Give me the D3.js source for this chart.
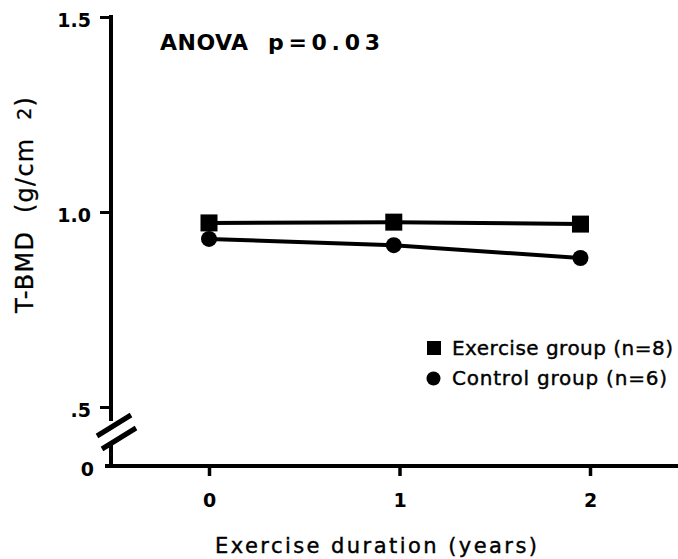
<!DOCTYPE html>
<html>
<head>
<meta charset="utf-8">
<script src="https://cdn.jsdelivr.net/npm/d3@7"></script>
<style>
  body { margin: 0; background: #fff; }
  svg { display: block; font-family: "DejaVu Sans", sans-serif; }
  text { white-space: pre; fill: #000; }
</style>
</head>
<body>
<svg id="chart" width="678" height="559"></svg>
<script>
// data
var years = [0, 0.97, 1.95];
var exerciseBMD = [0.972, 0.974, 0.969];
var controlBMD = [0.931, 0.915, 0.882];
var xTicks = [0, 1, 2];
var xTickLabels = ["0", "1", "2"];
var yTicks = [0.5, 1.0, 1.5];
var yTickLabels = [".5", "1.0", "1.5"];
var seriesNames = ["Exercise group (n=8)", "Control group (n=6)"];

var svg = d3.select("#chart");

var axisX = 111;      // y axis position
var y0 = 466;         // x axis position (value 0 after the break)

var x = d3.scaleLinear().domain([0, 2]).range([209, 590]);
var y = d3.scaleLinear().domain([0.5, 1.5]).range([407, 17]);
// the short segment below the break, 0 -> .5
var yLow = d3.scaleLinear().domain([0, 0.5]).range([y0, y(0.5)]);

function styleTicks(g) {
    g.attr("font-size", 19)
        .attr("font-family", "DejaVu Sans, sans-serif")
        .attr("font-weight", "bold");
    g.select(".domain").remove();
    g.selectAll(".tick line").attr("stroke", "#000").attr("stroke-width", 3);
    g.selectAll(".tick text")
        .attr("fill", "#000")
        .attr("font-size", 19)
        .style("font-size", "19px", "important")
        .style("font-family", "'DejaVu Sans', sans-serif", "important")
        .style("font-weight", "bold", "important");
}

// ---- y axis
var yAxis = svg.append("g")
    .attr("transform", "translate(" + axisX + ",0)")
    .call(d3.axisLeft(y)
        .tickValues(yTicks)
        .tickSize(11)
        .tickSizeOuter(0)
        .tickFormat(function (d, i) { return yTickLabels[i]; }));
styleTicks(yAxis);
yAxis.selectAll(".tick text").attr("x", -20).attr("y", 3);

var yAxisLow = svg.append("g")
    .attr("transform", "translate(" + axisX + ",0)")
    .call(d3.axisLeft(yLow)
        .tickValues([0])
        .tickSize(0)
        .tickFormat(function () { return "0"; }));
styleTicks(yAxisLow);
yAxisLow.selectAll(".tick text").attr("x", -17).attr("y", 3);

// broken axis line
svg.append("line")
    .attr("x1", axisX).attr("x2", axisX)
    .attr("y1", y(1.5) - 2).attr("y2", 421)
    .attr("stroke", "#000").attr("stroke-width", 4);
svg.append("line")
    .attr("x1", axisX).attr("x2", axisX)
    .attr("y1", 443).attr("y2", y0)
    .attr("stroke", "#000").attr("stroke-width", 4);
// break marks
[[-14, 436, 20, 415], [-9, 449, 25, 428]].forEach(function (b) {
    svg.append("line")
        .attr("x1", axisX + b[0]).attr("y1", b[1])
        .attr("x2", axisX + b[2]).attr("y2", b[3])
        .attr("stroke", "#000").attr("stroke-width", 5);
});

// ---- x axis
var xAxis = svg.append("g")
    .attr("transform", "translate(0," + y0 + ")")
    .call(d3.axisBottom(x)
        .tickValues(xTicks)
        .tickSize(10)
        .tickSizeOuter(0)
        .tickFormat(function (d, i) { return xTickLabels[i]; }));
styleTicks(xAxis);
xAxis.selectAll(".tick line").attr("stroke-width", 3.5);
xAxis.selectAll(".tick text").attr("y", 41).attr("dy", 0);

svg.append("line")
    .attr("x1", axisX - 6).attr("x2", 678)
    .attr("y1", y0).attr("y2", y0)
    .attr("stroke", "#000").attr("stroke-width", 4);

// ---- series
var pts = function (vals) {
    return vals.map(function (v, i) { return [years[i], v]; });
};
var line = d3.line()
    .x(function (d) { return x(d[0]); })
    .y(function (d) { return y(d[1]); });

svg.append("path")
    .datum(pts(exerciseBMD))
    .attr("d", line)
    .attr("fill", "none").attr("stroke", "#000").attr("stroke-width", 4);
svg.append("path")
    .datum(pts(controlBMD))
    .attr("d", line)
    .attr("fill", "none").attr("stroke", "#000").attr("stroke-width", 4);

svg.selectAll("rect.ex")
    .data(pts(exerciseBMD))
    .enter()
    .append("rect")
    .attr("class", "ex")
    .attr("x", function (d) { return x(d[0]) - 8.5; })
    .attr("y", function (d) { return y(d[1]) - 8.5; })
    .attr("width", 17).attr("height", 17)
    .attr("fill", "#000");

svg.selectAll("circle.ctl")
    .data(pts(controlBMD))
    .enter()
    .append("circle")
    .attr("class", "ctl")
    .attr("cx", function (d) { return x(d[0]); })
    .attr("cy", function (d) { return y(d[1]); })
    .attr("r", 8)
    .attr("fill", "#000");

// ---- legend
var legend = svg.append("g").attr("transform", "translate(427,0)");
legend.append("rect")
    .attr("x", 0).attr("y", 341)
    .attr("width", 14).attr("height", 14)
    .attr("fill", "#000");
legend.append("circle")
    .attr("cx", 6.5).attr("cy", 378.5)
    .attr("r", 7)
    .attr("fill", "#000");
legend.selectAll("text")
    .data(seriesNames)
    .enter()
    .append("text")
    .attr("x", 25)
    .attr("y", function (d, i) { return i === 0 ? 355 : 385; })
    .attr("textLength", function (d, i) { return i === 0 ? 221 : 215; })
    .attr("lengthAdjust", "spacing")
    .style("font-size", "20px")
    .style("stroke", "#000").style("stroke-width", 0.4)
    .text(function (d) { return d; });

// ---- annotation
svg.append("text")
    .attr("x", 160).attr("y", 50)
    .attr("textLength", 88).attr("lengthAdjust", "spacing")
    .style("font-size", "22px").style("font-weight", "bold")
    .text("ANOVA");
svg.append("text")
    .attr("x", 268).attr("y", 50)
    .attr("textLength", 112).attr("lengthAdjust", "spacing")
    .style("font-size", "22px").style("font-weight", "bold")
    .text("p=0.03");

// ---- axis titles
svg.append("text")
    .attr("x", 215).attr("y", 553)
    .attr("textLength", 322).attr("lengthAdjust", "spacing")
    .style("font-size", "21px")
    .style("stroke", "#000").style("stroke-width", 0.4)
    .text("Exercise duration (years)");

var yTitle = svg.append("text")
    .attr("transform", "translate(33,313) rotate(-90)")
    .attr("textLength", 216).attr("lengthAdjust", "spacing")
    .style("font-size", "24px")
    .style("stroke", "#000").style("stroke-width", 0.3);
yTitle.append("tspan").text("T-BMD  (g/cm  ");
yTitle.append("tspan").attr("dy", -2).style("font-size", "19px").text("2");
yTitle.append("tspan").attr("dy", 2).text(")");
</script>
</body>
</html>
